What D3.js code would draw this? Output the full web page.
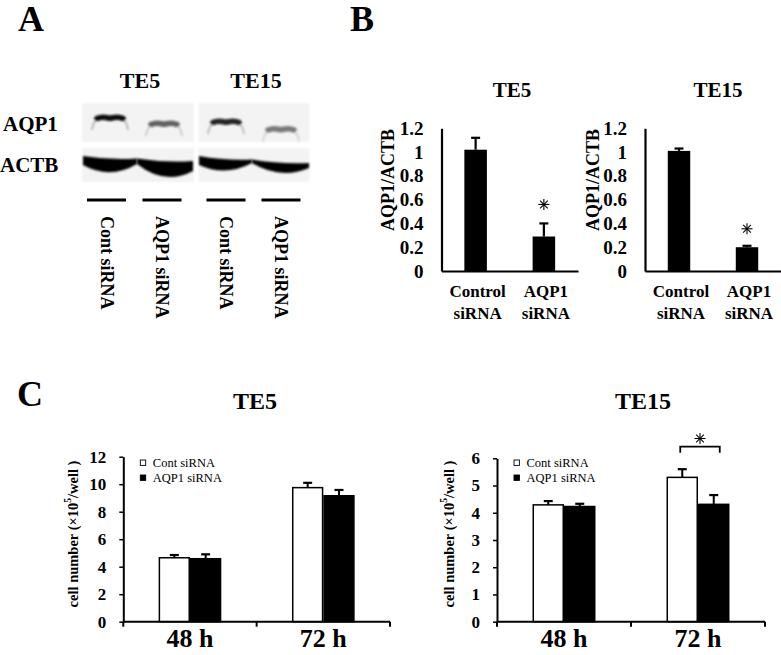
<!DOCTYPE html>
<html><head><meta charset="utf-8">
<script src="https://cdn.jsdelivr.net/npm/d3@7"></script>
<style>
body{margin:0;background:#fff}
svg{display:block;background:#fff}
text{font-family:"Liberation Serif","Times New Roman",serif;fill:#000}
</style>
</head><body>
<svg id="fig" width="781" height="655"></svg>
<script>
// ---------------- DATA ----------------
// Panel A (western blot)
const blotCellLines = ["TE5", "TE15"];
const blotRowLabels = ["AQP1", "ACTB"];
const blotLaneLabels = ["Cont siRNA", "AQP1 siRNA", "Cont siRNA", "AQP1 siRNA"];
const aqp1BandDensity = [0.95, 0.6, 0.85, 0.5];
const actbBandDensity = [1, 1, 1, 1];

// Panel B (AQP1/ACTB ratio)
const bCategories = ["Control siRNA", "AQP1 siRNA"];
const bTE5Mean = [1.02, 0.29];
const bTE5Err = [0.10, 0.11];
const bTE15Mean = [1.01, 0.20];
const bTE15Err = [0.02, 0.012];
const bSignificant = [false, true];
const bYTicks = [0, 0.2, 0.4, 0.6, 0.8, 1, 1.2];

// Panel C (cell number)
const cCategories = ["48 h", "72 h"];
const cSeries = ["Cont siRNA", "AQP1 siRNA"];
const cTE5Cont = [4.65, 9.75];
const cTE5ContErr = [0.20, 0.35];
const cTE5Aqp1 = [4.58, 9.16];
const cTE5Aqp1Err = [0.32, 0.42];
const cTE15Cont = [4.29, 5.30];
const cTE15ContErr = [0.14, 0.30];
const cTE15Aqp1 = [4.23, 4.31];
const cTE15Aqp1Err = [0.10, 0.34];
const cTE5Ticks = [0, 2, 4, 6, 8, 10, 12];
const cTE15Ticks = [0, 1, 2, 3, 4, 5, 6];
const cTE15SigCategory = "72 h";

// ---------------- DRAWING ----------------
const svg = d3.select("#fig");
const defs = svg.append("defs");
defs.append("filter").attr("id", "blur1").attr("x", "-30%").attr("y", "-80%").attr("width", "160%").attr("height", "260%")
  .append("feGaussianBlur").attr("stdDeviation", 1.2);
defs.append("filter").attr("id", "blur2").attr("x", "-20%").attr("y", "-50%").attr("width", "140%").attr("height", "200%")
  .append("feGaussianBlur").attr("stdDeviation", 0.8);

function star(g, cx, cy, r) {
  [0, 45, 90, 135].forEach(a => {
    const t = a * Math.PI / 180;
    g.append("line")
      .attr("x1", cx - r * Math.cos(t)).attr("y1", cy - r * Math.sin(t))
      .attr("x2", cx + r * Math.cos(t)).attr("y2", cy + r * Math.sin(t))
      .attr("stroke", "#000").attr("stroke-width", 1.1);
  });
}

// Panel letters
[["A", 18, 31], ["B", 350, 31], ["C", 17, 406]].forEach(([t, x, y]) => {
  svg.append("text").attr("x", x).attr("y", y).attr("font-size", 36).attr("font-weight", "bold").text(t);
});

// ---------- Panel A ----------
(function panelA() {
  const g = svg.append("g");
  const boxes = [{x: 82, w: 112}, {x: 198.5, w: 111}];
  const rowY = [{y: 103, h: 39}, {y: 148, h: 34}];
  blotCellLines.forEach((c, i) => {
    g.append("text").attr("x", boxes[i].x + boxes[i].w / 2 + 2).attr("y", 88)
      .attr("text-anchor", "middle").attr("font-size", 22).attr("font-weight", "bold").text(c);
  });
  g.append("text").attr("x", 3).attr("y", 131).attr("font-size", 21).attr("font-weight", "bold").text(blotRowLabels[0]);
  g.append("text").attr("x", 0).attr("y", 172).attr("font-size", 21).attr("font-weight", "bold").text(blotRowLabels[1]);
  rowY.forEach(r => boxes.forEach(b => {
    g.append("rect").attr("x", b.x).attr("y", r.y).attr("width", b.w).attr("height", r.h)
      .attr("fill", "#f3f3f3").attr("filter", "url(#blur2)");
  }));
  const laneCx = [110, 164, 226, 281];
  const aqpY = [117, 123, 121, 128.5];
  aqp1BandDensity.forEach((d, i) => {
    const cx = laneCx[i], by = aqpY[i];
    const bg = g.append("g").attr("filter", "url(#blur1)").attr("opacity", d);
    // faint tails
    bg.append("path").attr("d", `M${cx-18},${by+13} Q${cx-17},${by+4} ${cx-11},${by+1}`)
      .attr("fill", "none").attr("stroke", "#aaa").attr("stroke-width", 1.6);
    bg.append("path").attr("d", `M${cx+18},${by+13} Q${cx+17},${by+4} ${cx+11},${by+1}`)
      .attr("fill", "none").attr("stroke", "#aaa").attr("stroke-width", 1.6);
    // dark core
    bg.append("path").attr("d", `M${cx-13},${by+1.5} C${cx-7},${by-1.5} ${cx-3},${by+1} ${cx},${by+1.2} C${cx+3},${by+1} ${cx+7},${by-1.5} ${cx+13},${by+1.5}`)
      .attr("fill", "none").attr("stroke", "#000").attr("stroke-width", 5.5).attr("stroke-linecap", "round");
  });
  const actbShapes = [
    [83, 137, 156, 158.5, 165, 180, 164],
    [137, 193, 158.5, 161, 164, 186, 171],
    [199, 252, 156, 159.5, 165, 177, 163],
    [252, 309, 159.5, 163, 163, 180, 168]
  ];
  actbBandDensity.forEach((d, i) => {
    const [lx, rx, tl, tr, bl, bc, br] = actbShapes[i];
    const cx = (lx + rx) / 2;
    g.append("path")
      .attr("d", `M${lx},${tl} Q${cx},${(tl+tr)/2+3} ${rx},${tr} L${rx},${br} Q${cx},${bc} ${lx},${bl} Z`)
      .attr("fill", "#000").attr("opacity", d).attr("filter", "url(#blur2)");
  });
  const barCx = [106.5, 162, 226, 281];
  blotLaneLabels.forEach((l, i) => {
    g.append("line").attr("x1", barCx[i] - 19.5).attr("x2", barCx[i] + 19.5).attr("y1", 200).attr("y2", 200)
      .attr("stroke", "#000").attr("stroke-width", 3);
    g.append("text").attr("transform", `translate(${barCx[i]},216) rotate(90)`)
      .attr("dominant-baseline", "central").attr("font-size", 18).attr("font-weight", "bold").text(l);
  });
})();

// ---------- Panel B ----------
function panelB(cfg) {
  const g = svg.append("g");
  const x = d3.scaleBand().domain(bCategories).range([cfg.x0, cfg.x1]);
  const y = d3.scaleLinear().domain([0, 1.2]).range([271, 128.3]);
  const bw = x.bandwidth() * 0.33;
  g.append("text").attr("x", cfg.titleX).attr("y", 97).attr("text-anchor", "middle")
    .attr("font-size", 21).attr("font-weight", "bold").text(cfg.title);
  g.selectAll("rect.bar").data(bCategories).join("rect")
    .attr("x", d => x(d) + (x.bandwidth() - bw) / 2).attr("width", bw)
    .attr("y", (d, i) => y(cfg.mean[i])).attr("height", (d, i) => y(0) - y(cfg.mean[i]))
    .attr("fill", "#000");
  bCategories.forEach((c, i) => {
    const cx = x(c) + x.bandwidth() / 2;
    const yt = y(cfg.mean[i] + cfg.err[i]);
    g.append("line").attr("x1", cx).attr("x2", cx).attr("y1", y(cfg.mean[i])).attr("y2", yt)
      .attr("stroke", "#000").attr("stroke-width", 2.2);
    g.append("line").attr("x1", cx - 4.5).attr("x2", cx + 4.5).attr("y1", yt).attr("y2", yt)
      .attr("stroke", "#000").attr("stroke-width", 2.2);
    if (bSignificant[i]) star(g, cx, yt - cfg.starGap, 5.5);
  });
  const ya = g.append("g").attr("transform", `translate(${cfg.x0},0)`)
    .call(d3.axisLeft(y).tickValues(bYTicks).tickSize(0).tickSizeOuter(0).tickPadding(18)
      .tickFormat(d => String(+d.toFixed(1))));
  ya.select(".domain").attr("stroke", "#000").attr("stroke-width", 2.2);
  ya.selectAll("text").attr("font-size", 19).attr("font-weight", "bold").attr("fill", "#000");
  const xa = g.append("g").attr("transform", `translate(0,${y(0)})`)
    .call(d3.axisBottom(x).tickSize(0).tickSizeOuter(0).tickFormat(""));
  xa.select(".domain").attr("stroke", "#000").attr("stroke-width", 2.2);
  bCategories.forEach(c => {
    const parts = c.split(" ");
    const t = g.append("text").attr("text-anchor", "middle").attr("font-size", 17).attr("font-weight", "bold");
    parts.forEach((p, k) => t.append("tspan").attr("x", x(c) + x.bandwidth() / 2 + 2).attr("y", 297 + k * 22).text(p));
  });
  g.append("text").attr("transform", `translate(${cfg.labelX},${180}) rotate(-90)`)
    .attr("text-anchor", "middle").attr("dominant-baseline", "central")
    .attr("font-size", 18).attr("font-weight", "bold").text("AQP1/ACTB");
}
panelB({x0: 441.5, x1: 578, title: "TE5", titleX: 512, mean: bTE5Mean, err: bTE5Err, labelX: 388, starGap: 19});
panelB({x0: 645, x1: 781, title: "TE15", titleX: 718, mean: bTE15Mean, err: bTE15Err, labelX: 593, starGap: 17});

// ---------- Panel C ----------
function panelC(cfg) {
  const g = svg.append("g");
  const x0 = d3.scaleBand().domain(cCategories).range([cfg.xa, cfg.xb]);
  const groupW = x0.bandwidth() * 0.47;
  const x1 = d3.scaleBand().domain(cSeries).range([0, groupW]);
  const y = d3.scaleLinear().domain([0, cfg.max]).range([621.7, cfg.yTop]);
  const off = (x0.bandwidth() - groupW) / 2;
  const series = [{name: cSeries[0], v: cfg.cont, e: cfg.contErr, fill: "#fff"},
                   {name: cSeries[1], v: cfg.aqp, e: cfg.aqpErr, fill: "#000"}];
  g.append("text").attr("x", cfg.titleX).attr("y", 409).attr("text-anchor", "middle")
    .attr("font-size", 24).attr("font-weight", "bold").text(cfg.title);
  series.forEach(s => {
    cCategories.forEach((c, i) => {
      const bx = x0(c) + off + x1(s.name);
      g.append("rect").attr("x", bx + 0.75).attr("width", x1.bandwidth() - 1.5)
        .attr("y", y(s.v[i])).attr("height", y(0) - y(s.v[i]))
        .attr("fill", s.fill).attr("stroke", "#000").attr("stroke-width", 1.5);
      const cx = bx + x1.bandwidth() / 2;
      const yt = y(s.v[i] + s.e[i]);
      g.append("line").attr("x1", cx).attr("x2", cx).attr("y1", y(s.v[i])).attr("y2", yt)
        .attr("stroke", "#000").attr("stroke-width", 2);
      g.append("line").attr("x1", cx - 4.5).attr("x2", cx + 4.5).attr("y1", yt).attr("y2", yt)
        .attr("stroke", "#000").attr("stroke-width", 2.2);
    });
  });
  const ya = g.append("g").attr("transform", `translate(${cfg.xa},0)`)
    .call(d3.axisLeft(y).tickValues(cfg.ticks).tickSize(4).tickSizeOuter(0).tickPadding(13).tickFormat(d3.format("d")));
  ya.select(".domain").attr("stroke", "#000").attr("stroke-width", 2);
  ya.selectAll(".tick line").attr("stroke", "#000").attr("stroke-width", 1.5);
  ya.selectAll("text").attr("font-size", 17).attr("font-weight", "bold").attr("fill", "#000");
  g.append("line").attr("x1", cfg.xa).attr("x2", cfg.xb).attr("y1", y(0)).attr("y2", y(0))
    .attr("stroke", "#000").attr("stroke-width", 2);
  [...cCategories.map(c => x0(c)), cfg.xb].forEach(bx => {
    g.append("line").attr("x1", bx).attr("x2", bx).attr("y1", y(0)).attr("y2", y(0) + 5)
      .attr("stroke", "#000").attr("stroke-width", 2);
  });
  cCategories.forEach(c => {
    g.append("text").attr("x", x0(c) + x0.bandwidth() / 2).attr("y", 647).attr("text-anchor", "middle")
      .attr("font-size", 26).attr("font-weight", "bold").text(c);
  });
  const yl = g.append("text").attr("transform", `translate(${cfg.labelX},534) rotate(-90)`)
    .attr("text-anchor", "middle").attr("dominant-baseline", "central")
    .attr("font-size", 14.5).attr("font-weight", "bold");
  yl.append("tspan").text("cell number (\u00d710");
  yl.append("tspan").attr("font-size", 9.5).attr("dy", -5).text("5");
  yl.append("tspan").attr("dy", 5).text("/well )");
  series.forEach((s, k) => {
    const ly = 462.7 + k * 15;
    g.append("rect").attr("x", cfg.xa + 17).attr("y", ly - 2.7).attr("width", 5.4).attr("height", 5.4)
      .attr("fill", s.fill).attr("stroke", "#000").attr("stroke-width", 0.9);
    g.append("text").attr("x", cfg.xa + 29.5).attr("y", ly + 4.3).attr("font-size", 12.5).text(s.name);
  });
  if (cfg.sig) {
    const bxW = x0(cfg.sig) + off + x1(cSeries[0]) + x1.bandwidth() / 2 - 2;
    const bxB = x0(cfg.sig) + off + x1(cSeries[1]) + x1.bandwidth() / 2 + 6;
    const by = 446.7;
    g.append("path").attr("d", `M${bxW},${by + 6} L${bxW},${by} L${bxB},${by} L${bxB},${by + 6}`)
      .attr("fill", "none").attr("stroke", "#000").attr("stroke-width", 1.8);
    star(g, (bxW + bxB) / 2, 438.5, 5.5);
  }
}
panelC({xa: 123.3, xb: 390, max: 12, yTop: 456.7, ticks: cTE5Ticks, title: "TE5", titleX: 255,
  cont: cTE5Cont, contErr: cTE5ContErr, aqp: cTE5Aqp1, aqpErr: cTE5Aqp1Err, labelX: 73});
panelC({xa: 497, xb: 765, max: 6, yTop: 458.3, ticks: cTE15Ticks, title: "TE15", titleX: 643,
  cont: cTE15Cont, contErr: cTE15ContErr, aqp: cTE15Aqp1, aqpErr: cTE15Aqp1Err, labelX: 449, sig: cTE15SigCategory});
</script>
</body></html>
